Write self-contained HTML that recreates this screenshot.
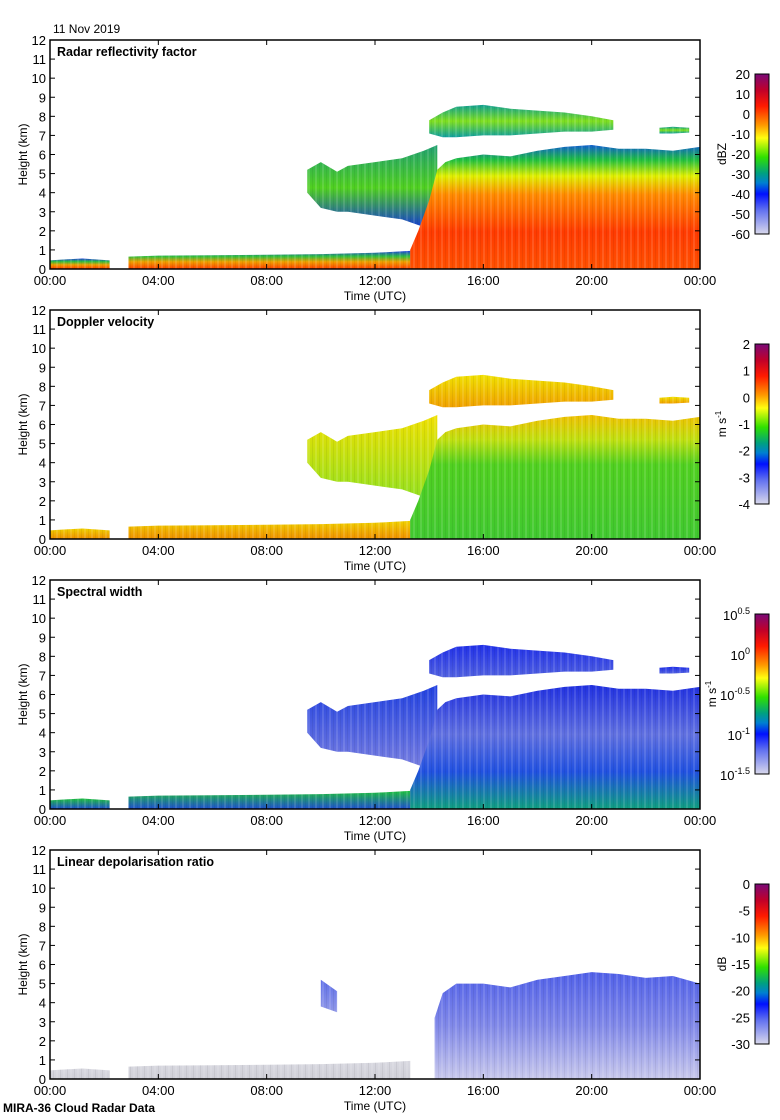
<!DOCTYPE html>
<html><head><meta charset="utf-8">
<style>
html,body{margin:0;padding:0;background:#fff;}
svg{display:block;font-family:"Liberation Sans",sans-serif;}
</style></head>
<body>
<svg id="chart" width="780" height="1120" viewBox="0 0 780 1120" xmlns="http://www.w3.org/2000/svg">
<defs>
<linearGradient id="cbar" x1="0" y1="0" x2="0" y2="1">
<stop offset="0" stop-color="#7a0a78"/><stop offset="0.1" stop-color="#c0002a"/><stop offset="0.2" stop-color="#ff1a00"/><stop offset="0.32" stop-color="#ff9a00"/><stop offset="0.4" stop-color="#ffff10"/><stop offset="0.52" stop-color="#30e000"/><stop offset="0.62" stop-color="#00a080"/><stop offset="0.68" stop-color="#0080d0"/><stop offset="0.75" stop-color="#0010ff"/><stop offset="0.85" stop-color="#6070f0"/><stop offset="1" stop-color="#d8d8ec"/>
</linearGradient>
<linearGradient id="gZdeep" x1="0" y1="0" x2="0" y2="1"><stop offset="0" stop-color="#1060d0"/><stop offset="0.12" stop-color="#20c040"/><stop offset="0.25" stop-color="#e0f000"/><stop offset="0.4" stop-color="#ff8a00"/><stop offset="0.7" stop-color="#ff3a00"/><stop offset="1" stop-color="#ff5000"/></linearGradient>
<linearGradient id="gZbl" x1="0" y1="0" x2="0" y2="1"><stop offset="0" stop-color="#2040e0"/><stop offset="0.3" stop-color="#30c040"/><stop offset="0.6" stop-color="#f0a000"/><stop offset="1" stop-color="#ff4000"/></linearGradient>
<linearGradient id="gZmid" x1="0" y1="0" x2="0" y2="1"><stop offset="0" stop-color="#20a070"/><stop offset="0.5" stop-color="#50d020"/><stop offset="1" stop-color="#1030e0"/></linearGradient>
<linearGradient id="gZup" x1="0" y1="0" x2="0" y2="1"><stop offset="0" stop-color="#10a090"/><stop offset="0.5" stop-color="#80e020"/><stop offset="1" stop-color="#10a0a0"/></linearGradient>
<linearGradient id="gVdeep" x1="0" y1="0" x2="0" y2="1"><stop offset="0" stop-color="#f0c000"/><stop offset="0.2" stop-color="#c0e010"/><stop offset="0.4" stop-color="#50d020"/><stop offset="1" stop-color="#40c830"/></linearGradient>
<linearGradient id="gVbl" x1="0" y1="0" x2="0" y2="1"><stop offset="0" stop-color="#f0d000"/><stop offset="1" stop-color="#f09000"/></linearGradient>
<linearGradient id="gVmid" x1="0" y1="0" x2="0" y2="1"><stop offset="0" stop-color="#f0e000"/><stop offset="1" stop-color="#90e020"/></linearGradient>
<linearGradient id="gVup" x1="0" y1="0" x2="0" y2="1"><stop offset="0" stop-color="#f0e000"/><stop offset="1" stop-color="#f0a000"/></linearGradient>
<linearGradient id="gSdeep" x1="0" y1="0" x2="0" y2="1"><stop offset="0" stop-color="#2030e0"/><stop offset="0.4" stop-color="#6070e0"/><stop offset="0.7" stop-color="#2050e0"/><stop offset="1" stop-color="#10a080"/></linearGradient>
<linearGradient id="gSbl" x1="0" y1="0" x2="0" y2="1"><stop offset="0" stop-color="#20c040"/><stop offset="1" stop-color="#2050d0"/></linearGradient>
<linearGradient id="gSmid" x1="0" y1="0" x2="0" y2="1"><stop offset="0" stop-color="#2040e0"/><stop offset="1" stop-color="#7a80e0"/></linearGradient>
<linearGradient id="gSup" x1="0" y1="0" x2="0" y2="1"><stop offset="0" stop-color="#2030e8"/><stop offset="1" stop-color="#5060e0"/></linearGradient>
<linearGradient id="gLdeep" x1="0" y1="0" x2="0" y2="1"><stop offset="0" stop-color="#5060e8"/><stop offset="0.5" stop-color="#8088e8"/><stop offset="1" stop-color="#c8c8ec"/></linearGradient>
<linearGradient id="gLbl" x1="0" y1="0" x2="0" y2="1"><stop offset="0" stop-color="#d8d8e0"/><stop offset="1" stop-color="#d0d0d8"/></linearGradient>
<linearGradient id="gLmid" x1="0" y1="0" x2="0" y2="1"><stop offset="0" stop-color="#6070e8"/><stop offset="1" stop-color="#9098e8"/></linearGradient>
<pattern id="streak" width="7" height="10" patternUnits="userSpaceOnUse"><rect x="0" y="0" width="2" height="10" fill="#fff" opacity="0.12"/><rect x="4" y="0" width="1" height="10" fill="#000" opacity="0.06"/></pattern>
</defs>
<g id="root"></g>
</svg>
<script>
// ---- data (hours UTC, heights km) ----
const blTime1 = [0, 0.5, 1.2, 2.2];
const blTop1  = [0.45, 0.5, 0.55, 0.45];
const blTime2 = [2.9, 4, 6, 8, 10, 12, 13.3];
const blTop2  = [0.65, 0.7, 0.72, 0.75, 0.78, 0.85, 0.95];
const deepTime = [13.3, 13.6, 14, 14.3, 14.6, 15, 16, 17, 18, 19, 20, 21, 22, 23, 24];
const deepTop  = [1.0, 2.0, 3.6, 5.2, 5.6, 5.8, 6.0, 5.9, 6.2, 6.4, 6.5, 6.3, 6.3, 6.2, 6.4];
const ldrTime = [14.2, 14.5, 15, 16, 17, 18, 19, 20, 21, 22, 23, 24];
const ldrTop  = [3.2, 4.5, 5.0, 5.0, 4.8, 5.2, 5.4, 5.6, 5.5, 5.3, 5.4, 5.0];
const midTime = [9.5, 10, 10.6, 11, 12, 13, 13.8, 14.3];
const midTop  = [5.2, 5.6, 5.1, 5.4, 5.6, 5.8, 6.2, 6.5];
const midBase = [4.0, 3.2, 3.0, 3.0, 2.8, 2.6, 2.2, 2.0];
const upTime = [14, 14.5, 15, 16, 17, 18, 19, 20, 20.8];
const upTop  = [7.8, 8.2, 8.5, 8.6, 8.4, 8.3, 8.2, 8.0, 7.8];
const upBase = [7.1, 6.9, 6.9, 7.0, 7.0, 7.1, 7.2, 7.2, 7.3];
const patchTime = [22.5, 23, 23.6];
const patchTop  = [7.4, 7.45, 7.4];
const patchBase = [7.1, 7.1, 7.15];
const heightTicks = [0,1,2,3,4,5,6,7,8,9,10,11,12];
const timeTicks = [0,4,8,12,16,20,24];
const timeLabels = ["00:00","04:00","08:00","12:00","16:00","20:00","00:00"];
const panelTitles = ["Radar reflectivity factor","Doppler velocity","Spectral width","Linear depolarisation ratio"];
const cbLabels = [
  ["20","10","0","-10","-20","-30","-40","-50","-60"],
  ["2","1","0","-1","-2","-3","-4"],
  ["0.5","0","-0.5","-1","-1.5"],
  ["0","-5","-10","-15","-20","-25","-30"]
];
const cbUnits = ["dBZ","m s-1","m s-1","dB"];
const fillKeys = ["Z","V","S","L"];

const NS = "http://www.w3.org/2000/svg";
const root = document.getElementById('root');
const X0 = 50, X1 = 700, PH = 229;
function xs(h){ return X0 + (X1 - X0) * h / 24; }
function mk(tag, attrs, parent){ const e = document.createElementNS(NS, tag); for (const k in attrs) e.setAttribute(k, attrs[k]); (parent||root).appendChild(e); return e; }
function txt(s, attrs, parent){ const t = mk('text', attrs, parent); t.textContent = s; return t; }

mk('text', {x:53, y:33, 'font-size':12, fill:'#000'}).textContent = "11 Nov 2019";



for (let p = 0; p < 4; p++) {
  const top = 40 + 270 * p, bot = top + PH;
  const ys = h => bot - PH * h / 12;
  const g = mk('g', {});
  
  
  const k = fillKeys[p];
  function area(times, tops, bases, fill, name) {
    let d = '';
    times.forEach((t,i)=>{ d += (i?'L':'M') + xs(t).toFixed(1) + ' ' + ys(tops[i]).toFixed(1); });
    for (let i = times.length-1; i >= 0; i--) d += 'L' + xs(times[i]).toFixed(1) + ' ' + ys(bases ? bases[i] : 0).toFixed(1);
    d += 'Z';
    const a = mk('path', {d:d, fill:fill}, g);
    
    
    const s = mk('path', {d:d, fill:'url(#streak)'}, g);
    
    
  }
  area(blTime1, blTop1, null, 'url(#g'+k+'bl)', 'boundary-layer-early');
  area(blTime2, blTop2, null, 'url(#g'+k+'bl)', 'boundary-layer');
  if (p === 3) {
    area(ldrTime, ldrTop, null, 'url(#gLdeep)', 'deep-cloud');
    area(midTime.slice(1,3), [5.2,4.6], [3.8,3.5], 'url(#gLmid)', 'mid-cloud-fragment');
  } else {
    area(midTime, midTop, midBase, 'url(#g'+k+'mid)', 'mid-cloud');
    area(deepTime, deepTop, null, 'url(#g'+k+'deep)', 'deep-cloud');
    area(upTime, upTop, upBase, 'url(#g'+k+'up)', 'upper-cloud');
    area(patchTime, patchTop, patchBase, 'url(#g'+k+'up)', 'upper-cloud-patch');
  }
  const fr = mk('rect', {x:X0, y:top, width:X1-X0, height:PH, fill:'none', stroke:'#000', 'stroke-width':1.5}, g);
  
  
  heightTicks.forEach(h => {
    const y = ys(h);
    mk('line', {x1:X0, x2:X0+5, y1:y, y2:y, stroke:'#000'}, g);
    mk('line', {x1:X1-5, x2:X1, y1:y, y2:y, stroke:'#000'}, g);
    const t = txt(String(h), {x:X0-4, y:y+5, 'font-size':13, 'text-anchor':'end'}, g);
    
    
  });
  timeTicks.forEach((h,i) => {
    const x = xs(h);
    mk('line', {x1:x, x2:x, y1:bot, y2:bot-5, stroke:'#000'}, g);
    mk('line', {x1:x, x2:x, y1:top, y2:top+5, stroke:'#000'}, g);
    const t = txt(timeLabels[i], {x:x, y:bot+16, 'font-size':13, 'text-anchor':'middle'}, g);
    
    
  });
  const tt = txt(panelTitles[p], {x:57, y:top+16, 'font-size':12.5, 'font-weight':'bold'}, g);
  
  
  const xl = txt('Time (UTC)', {x:375, y:bot+31, 'font-size':12, 'text-anchor':'middle'}, g);
  
  
  const yl = txt('Height (km)', {x:0, y:0, 'font-size':12, 'text-anchor':'middle', transform:'translate(27,'+(top+PH/2)+') rotate(-90)'}, g);
  
  
  const cbT = top + 34, cbH = 160;
  const cb = mk('rect', {x:755, y:cbT, width:14, height:cbH, fill:'url(#cbar)', stroke:'#000', 'stroke-width':1}, g);
  
  
  const labs = cbLabels[p];
  labs.forEach((s,i) => {
    const y = cbT + cbH * i / (labs.length - 1);
    let t;
    if (p === 2) {
      t = mk('text', {x:750, y:y+6, 'font-size':13, 'text-anchor':'end'}, g);
      const base = mk('tspan', {}, t); base.textContent = '10';
      const sup = mk('tspan', {'font-size':9, dy:-6}, t); sup.textContent = s;
    } else {
      t = txt(s, {x:750, y:y+5, 'font-size':13, 'text-anchor':'end'}, g);
    }
    
    
  });
  const u = txt('', {x:0, y:0, 'font-size':12, 'text-anchor':'middle', transform:'translate('+(p===2?716:726)+','+(cbT+cbH/2)+') rotate(-90)'}, g);
  if (p === 1 || p === 2) { const b = mk('tspan', {}, u); b.textContent = 'm s'; const sp = mk('tspan', {'font-size':8, dy:-5}, u); sp.textContent = '-1'; }
  else u.textContent = cbUnits[p];
  
  
}
const foot = txt('MIRA-36 Cloud Radar Data', {x:3, y:1112, 'font-size':12, 'font-weight':'bold'});


</script>
</body></html>
